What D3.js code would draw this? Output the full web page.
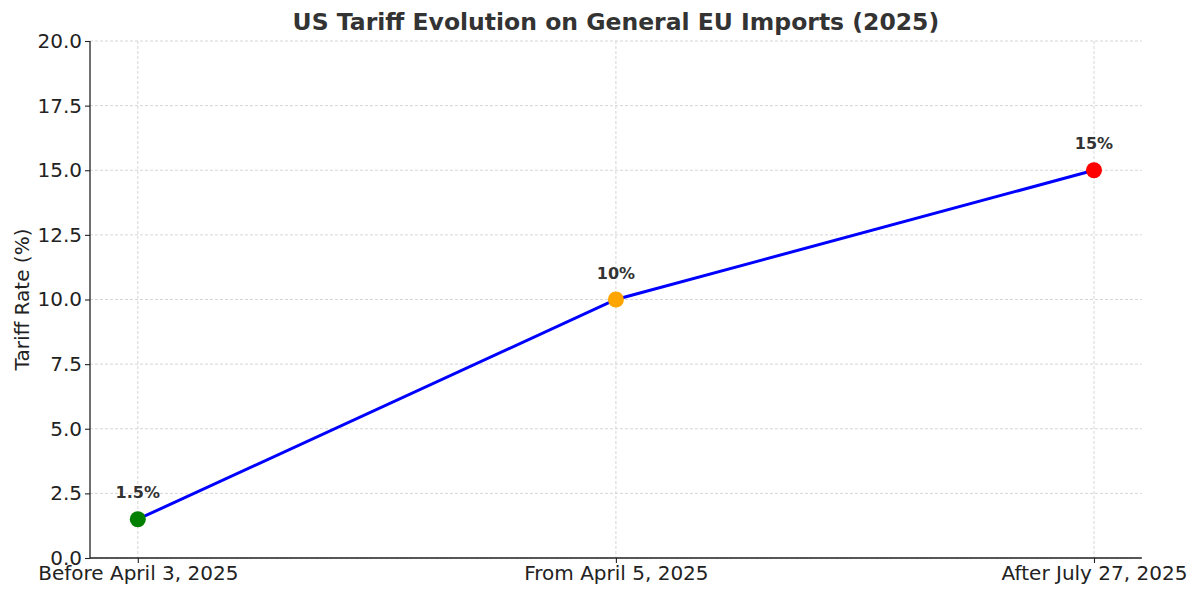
<!DOCTYPE html>
<html><head><meta charset="utf-8">
<script src="https://cdn.jsdelivr.net/npm/d3@7"></script>
<style>body{margin:0;background:#fff;}svg{display:block;font-family:"DejaVu Sans",sans-serif;}</style>
</head><body>
<svg id="c" width="1200" height="597"></svg>
<script>
const categories = ["Before April 3, 2025", "From April 5, 2025", "After July 27, 2025"];
const tariffValues = [1.5, 10, 15];
const pointLabels = ["1.5%", "10%", "15%"];
const pointColors = ["#008000", "#FFA500", "#FF0000"];
const yTicks = [0, 2.5, 5, 7.5, 10, 12.5, 15, 17.5, 20];

const svg = d3.select("#c");
const L = 90, R = 1141.8, T = 41, B = 558;
const x = d3.scaleLinear().domain([-0.1, 2.1]).range([L, R]);
const y = d3.scaleLinear().domain([0, 20]).range([B, T]);

// grid
svg.append("g").selectAll("line").data(yTicks).join("line")
  .attr("x1", L).attr("x2", R).attr("y1", d => y(d)).attr("y2", d => y(d))
  .attr("stroke", "#cccccc").attr("stroke-width", 0.8).attr("stroke-dasharray", "3,2");
svg.append("g").selectAll("line").data(categories).join("line")
  .attr("x1", (d,i) => x(i)).attr("x2", (d,i) => x(i)).attr("y1", T).attr("y2", B)
  .attr("stroke", "#cccccc").attr("stroke-width", 0.8).attr("stroke-dasharray", "3,2");

// axes
const yAxis = svg.append("g").attr("transform", `translate(${L},0)`)
  .call(d3.axisLeft(y).tickValues(yTicks).tickFormat(d3.format(".1f")).tickSizeOuter(0).tickSize(5).tickPadding(3));
const xAxis = svg.append("g").attr("transform", `translate(0,${B})`)
  .call(d3.axisBottom(x).tickValues([0,1,2]).tickFormat(i => categories[i]).tickSizeOuter(0).tickSize(5).tickPadding(3));
[yAxis, xAxis].forEach(a => {
  a.select(".domain").attr("stroke", "#222").attr("stroke-width", 1.3);
  a.selectAll(".tick line").attr("stroke", "#222").attr("stroke-width", 1.1);
  a.selectAll("text").attr("fill", "#222").style("font-size", "20px").style("font-family", "DejaVu Sans");
});
xAxis.select(".domain").attr("d", `M${L},0H${R}`);
yAxis.select(".domain").attr("d", `M0,${B}V${T}`);

// line
const line = d3.line().x((d,i) => x(i)).y(d => y(d));
svg.append("path").datum(tariffValues).attr("d", line)
  .attr("fill", "none").attr("stroke", "#0000FF").attr("stroke-width", 3);

// points
svg.append("g").selectAll("circle").data(tariffValues).join("circle")
  .attr("cx", (d,i) => x(i)).attr("cy", d => y(d)).attr("r", 8)
  .attr("fill", (d,i) => pointColors[i]);

// labels
svg.append("g").selectAll("text").data(tariffValues).join("text")
  .attr("x", (d,i) => x(i)).attr("y", d => y(d) - 21)
  .attr("text-anchor", "middle").attr("fill", "#333").attr("font-weight", "bold")
  .style("font-size", "16px").text((d,i) => pointLabels[i]);

// title
svg.append("text").attr("x", (L+R)/2).attr("y", 30).attr("text-anchor", "middle")
  .attr("fill", "#333").attr("font-weight", "bold").style("font-size", "23.5px")
  .text("US Tariff Evolution on General EU Imports (2025)");

// y label
svg.append("text").attr("transform", `translate(29,${(T+B)/2}) rotate(-90)`)
  .attr("text-anchor", "middle").attr("fill", "#222").style("font-size", "20px")
  .text("Tariff Rate (%)");
</script>
</body></html>
